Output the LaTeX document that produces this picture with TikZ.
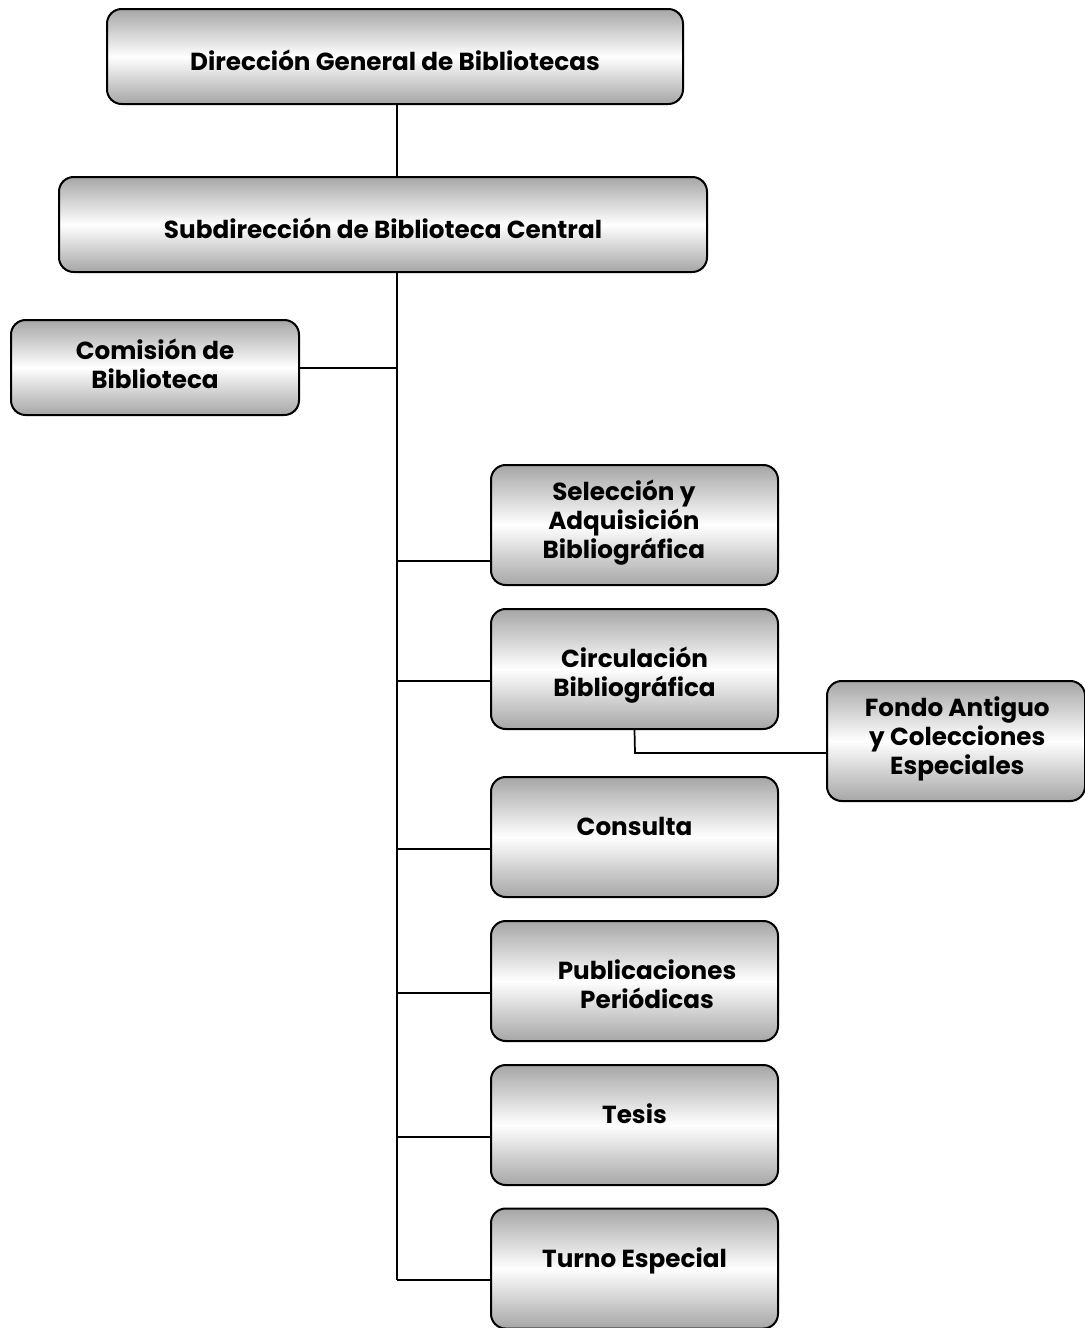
\documentclass[tikz,border=0pt]{standalone}
\usepackage{fontspec}
\setmainfont{Poppins}
% text block: horizontal nudge, vertical nudge, lines
\newcommand{\boxtext}[3]{\raisebox{#2}[0pt][0pt]{\hspace*{#1}\begin{tabular}{@{}c@{}}#3\end{tabular}}}
\tikzset{
  unit/.style={draw=black, line width=1.5pt, rounded corners=11pt,
    top color=gray!70, bottom color=gray!70, middle color=white,
    font=\bfseries\fontsize{18.5}{21.5}\selectfont, align=center,
    inner sep=0pt},
  wide/.style={unit, minimum height=71.25pt},
  dept/.style={unit, minimum width=215.25pt, minimum height=90pt},
  link/.style={line width=1.3pt}
}
\begin{document}
\begin{tikzpicture}[x=0.75pt,y=-0.75pt]
  \useasboundingbox (0,0) rectangle (1085,1328);
  % Top levels
  \node[wide, minimum width=432pt] (dir) at (395,56.5) {\boxtext{0pt}{-10.2pt}{Dirección General de Bibliotecas}};
  \node[wide, minimum width=486pt] (sub) at (383,224.5) {\boxtext{0pt}{-10.2pt}{Subdirección de Biblioteca Central}};
  \node[wide, minimum width=216pt] (com) at (155,367.5) {\boxtext{0pt}{-4.6pt}{Comisión de\\Biblioteca}};
  % Departments
  \node[dept] (sel) at (634.5,525) {\boxtext{-16pt}{-3pt}{Selección y\\Adquisición\\Bibliográfica}};
  \node[dept] (cir) at (634.5,669) {\boxtext{0pt}{-9.4pt}{Circulación\\Bibliográfica}};
  \node[dept] (con) at (634.5,837) {\boxtext{0pt}{1pt}{Consulta}};
  \node[dept] (pub) at (634.5,981) {\boxtext{18.8pt}{-9.5pt}{Publicaciones\\Periódicas}};
  \node[dept] (tes) at (634.5,1125) {\boxtext{0pt}{1pt}{Tesis}};
  \node[dept] (tur) at (634.5,1268.5) {\boxtext{0pt}{1pt}{Turno Especial}};
  \node[dept, minimum width=193.5pt] (fon) at (956,741) {\boxtext{2pt}{-3.3pt}{Fondo Antiguo\\y Colecciones\\Especiales}};
  % Trunk
  \coordinate (top) at (397,0);
  \coordinate (t0) at (397,368);
  \coordinate (t1) at (397,561);
  \coordinate (t2) at (397,681);
  \coordinate (t3) at (397,849);
  \coordinate (t4) at (397,993);
  \coordinate (t5) at (397,1137);
  \coordinate (t6) at (397,1280);
  \draw[link] (top |- dir.south) -- (top |- sub.north);
  \draw[link] (top |- sub.south) -- (t6);
  \draw[link] (t0) -- (t0 -| com.east);
  \foreach \t/\n in {t1/sel,t2/cir,t3/con,t4/pub,t5/tes,t6/tur}
    \draw[link] (\t) -- (\t -| \n.west);
  % Fondo Antiguo
  \coordinate (c1) at (635,753);
  \draw[link] (cir.south) -- (c1) -- (c1 -| fon.west);
\end{tikzpicture}
\end{document}
